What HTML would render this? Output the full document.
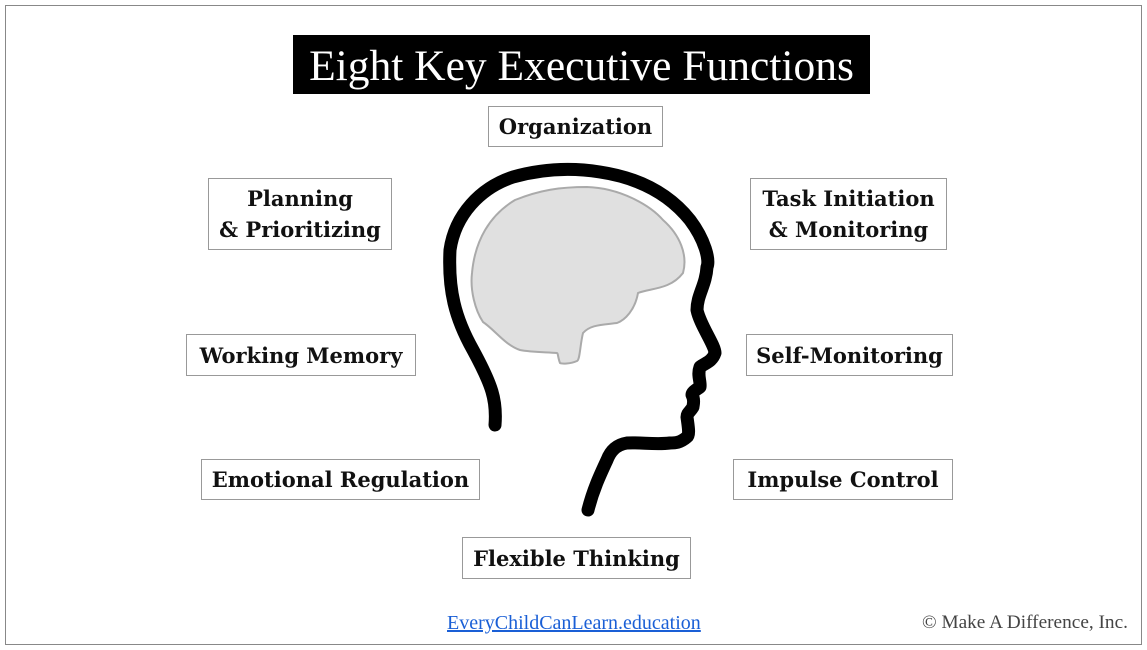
<!DOCTYPE html>
<html><head><style>
body{margin:0;width:1147px;height:650px;background:#fff;position:relative;overflow:hidden}
.frame{position:absolute;left:5px;top:5px;width:1135px;height:638px;border:1.5px solid #888}
.title{position:absolute;left:293px;top:35px;width:577px;height:59px;background:#000;color:#fff;font:43.5px "Liberation Serif",serif;text-align:center;line-height:62px}
.b{position:absolute;border:1px solid #999;background:#fff;font:bold 21px "DejaVu Serif","Liberation Serif",serif;display:flex;align-items:center;justify-content:center;text-align:center;line-height:31px;color:#111;white-space:nowrap}
.foot{position:absolute;top:612px;font:20px "Liberation Serif",serif}
</style></head><body>
<div class="frame"></div>
<div class="title">Eight Key Executive Functions</div>
<svg width="1147" height="650" style="position:absolute;left:0;top:0">
<path d="M587,187 C620,188 650,205 663,220 C680,235 688,255 683,273 C670,290 650,288 638,293 C635,310 625,320 617,323 C600,325 590,325 583,333 C580,345 580,360 577,361 C570,364 562,364 560,363 C558,358 558,353 557,353 C540,352 530,352 520,350 C505,345 495,330 483,322 C475,310 470,290 472,273 C475,240 490,215 515,200 C540,190 560,187 587,187 Z" fill="#e0e0e0" stroke="#aaa" stroke-width="2"/>
<path d="M495,425 C497,400 492,385 473,350 C455,318 448,290 450,250 C455,215 480,188 513,177 C545,168 575,168 600,172 C640,178 670,195 690,220 C705,240 710,260 707,267 C706,285 697,295 697,310 C700,325 715,345 715,353 C712,362 705,363 700,367 C697,375 701,382 700,387 C696,390 692,392 692,395 C695,400 693,405 693,407 C690,412 687,413 687,417 C688,425 690,435 687,437 C680,443 675,443 670,443 C655,445 640,442 627,443 C615,445 610,452 607,460 C600,475 593,490 588,510" fill="none" stroke="#000" stroke-width="13" stroke-linecap="round" stroke-linejoin="round"/>
</svg>
<div class="b" style="left:488px;top:106px;width:173px;height:39px">Organization</div>
<div class="b" style="left:208px;top:178px;width:182px;height:70px">Planning<br>&amp; Prioritizing</div>
<div class="b" style="left:750px;top:178px;width:195px;height:70px">Task Initiation<br>&amp; Monitoring</div>
<div class="b" style="left:186px;top:334px;width:228px;height:40px">Working Memory</div>
<div class="b" style="left:746px;top:334px;width:205px;height:40px">Self-Monitoring</div>
<div class="b" style="left:201px;top:459px;width:277px;height:39px">Emotional Regulation</div>
<div class="b" style="left:733px;top:459px;width:218px;height:39px">Impulse Control</div>
<div class="b" style="left:462px;top:537px;width:227px;height:40px">Flexible Thinking</div>
<div class="foot" style="left:447px;color:#1a5fd6;text-decoration:underline">EveryChildCanLearn.education</div>
<div class="foot" style="left:922px;color:#444;font-size:19.3px">© Make A Difference, Inc.</div>
</body></html>
